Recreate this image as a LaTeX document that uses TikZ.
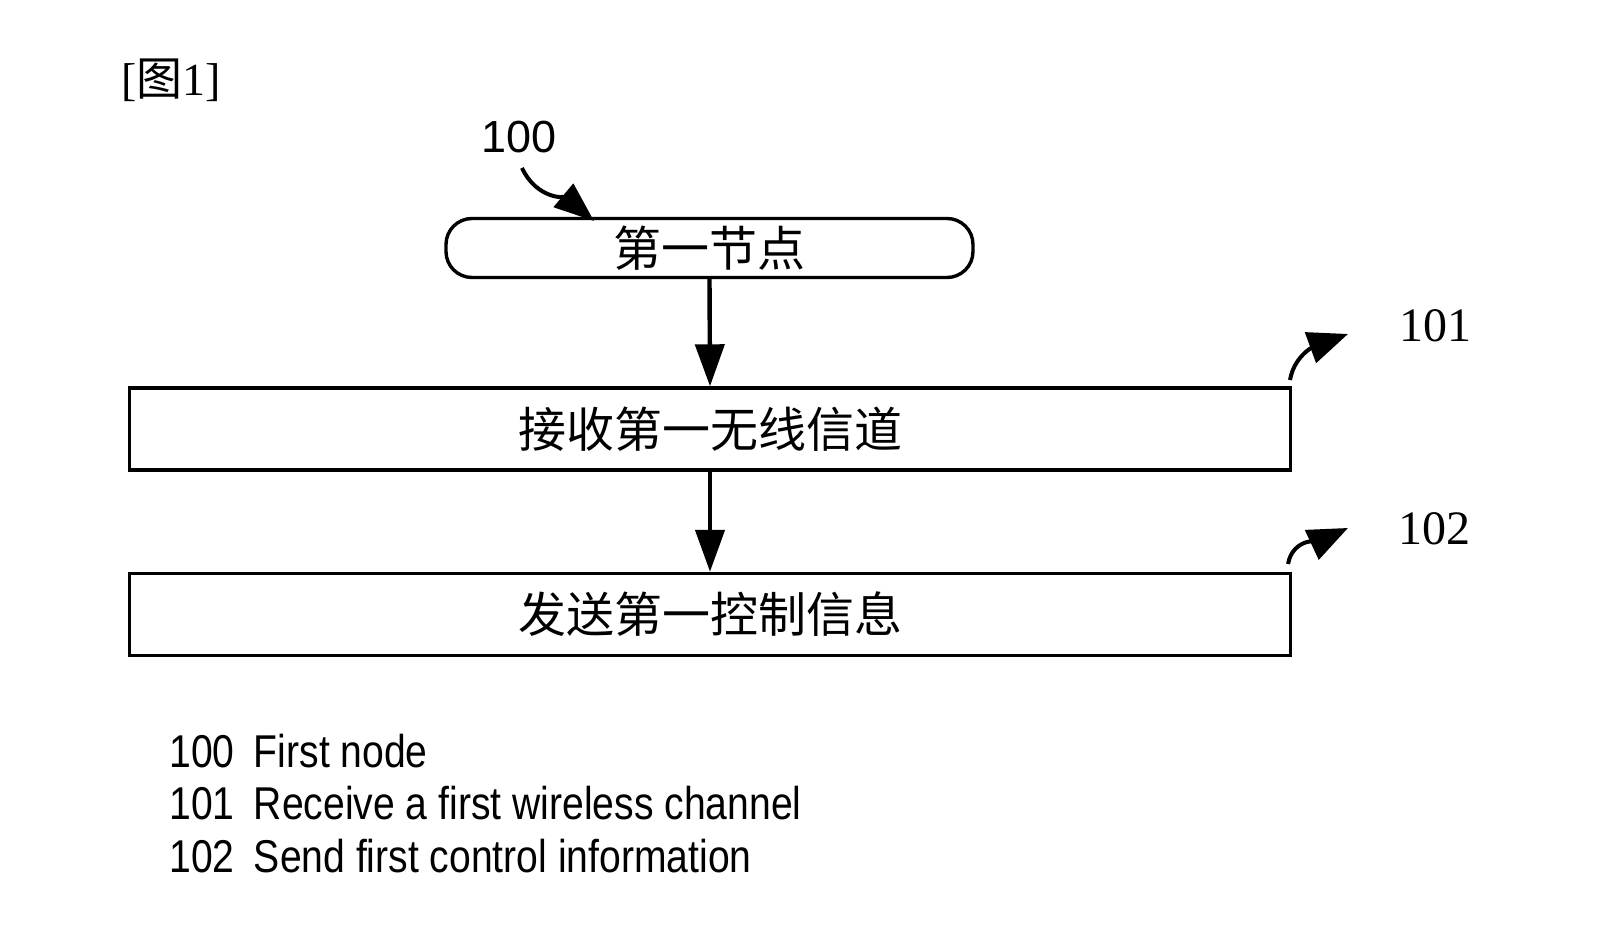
\documentclass[tikz,border=0pt]{standalone}
\usepackage{fontspec}
\setmainfont{Liberation Serif}
\newfontfamily\cjk{Noto Sans CJK SC}
\newfontfamily\sanslbl{Liberation Sans}
\newfontfamily\legendfont[FakeStretch=0.85]{Liberation Sans}
\usetikzlibrary{arrows.meta,positioning}
\tikzset{
  stepbox/.style={draw,line width=1.7pt,minimum width=580.5pt,minimum height=41pt,inner sep=0pt,font=\cjk\fontsize{24}{28}\selectfont},
  nodebox/.style={draw,line width=1.7pt,rounded corners=13pt,minimum width=263.5pt,minimum height=29.5pt,inner sep=0pt,font=\cjk\fontsize{24}{28}\selectfont},
  flow/.style={-{Triangle[length=21pt,width=14.5pt]},line width=2.2pt},
  refarrow/.style={-{Triangle[length=20pt,width=16pt]},line width=2pt},
  reflabel/.style={inner sep=0pt,font=\fontsize{24}{28}\selectfont},
  legend/.style={anchor=west,inner sep=0pt,font=\legendfont\fontsize{23}{28}\selectfont}
}
\begin{document}
\begin{tikzpicture}[x=0.5pt,y=-0.5pt]
  \useasboundingbox (0,0) rectangle (1601,945);
  \node [anchor=west,inner sep=0pt,font=\fontsize{23}{26}\selectfont] (fig) at (121,80) {[{\cjk 图}1]};
  % flow
  \node [nodebox] (first) at (709.5,248) {第一节点};
  \node [stepbox] (recv) at (710,429) {接收第一无线信道};
  \node [stepbox] (send) at (710,614.5) {发送第一控制信息};
  \draw [flow] (first.south)--(recv.north);
  \draw [flow] (recv.south)--(send.north);
  % reference numerals
  \node [reflabel,font=\sanslbl\fontsize{22.5}{26}\selectfont] (l100) at (519,137) {100};
  \node [reflabel] (l101) at (1435,326) {101};
  \node [reflabel] (l102) at (1434,529) {102};
  \coordinate (s100) at (522,168);
  \coordinate (t100) at (594,221);
  \draw [refarrow,-{Triangle[length=20pt,width=15pt]}] (s100) to[out=-65,in=140] (t100);
  \coordinate (s101) at (1290,380);
  \coordinate (t101) at (1348,334);
  \draw [refarrow] (s101) to[out=80,in=200] (t101);
  \coordinate (s102) at (1288,564);
  \coordinate (t102) at (1348,528);
  \draw [refarrow] (s102) to[out=80,in=205] (t102);
  % legend
  \node [legend] (k100) at (169,751) {100\hspace{0.42em}First node};
  \node [legend] (k101) at (169,803) {101\hspace{0.42em}Receive a first wireless channel};
  \node [legend] (k102) at (169,856) {102\hspace{0.42em}Send first control information};
\end{tikzpicture}
\end{document}
